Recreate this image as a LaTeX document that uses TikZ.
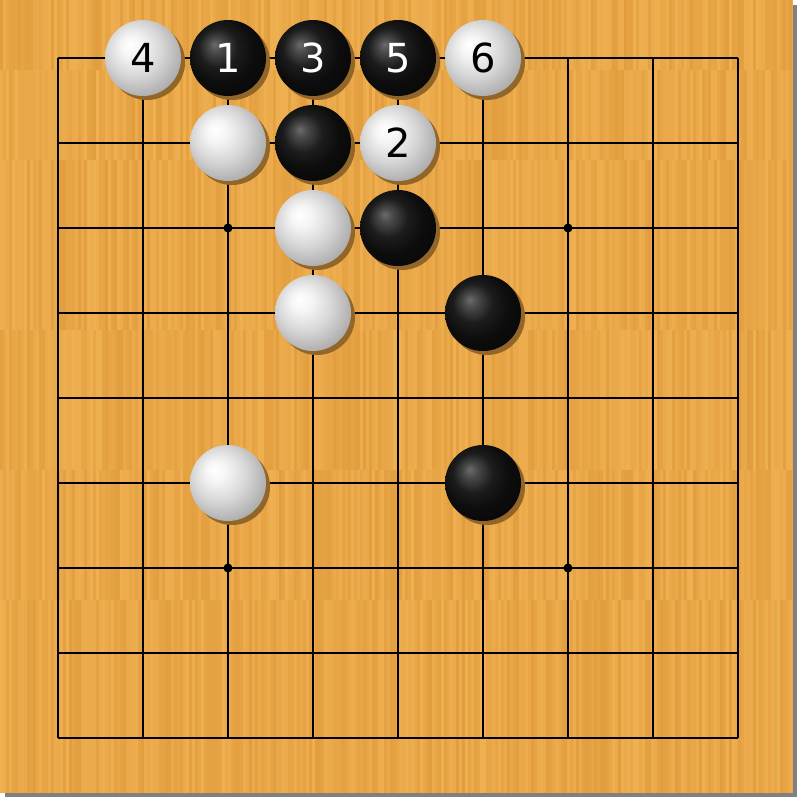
\documentclass[tikz,border=0pt]{standalone}
\usepackage{fontspec}
\setmainfont{DejaVu Sans}
\usetikzlibrary{shadows}
\definecolor{woodL}{RGB}{239,176,82}
\definecolor{woodD}{RGB}{226,158,62}
\definecolor{woodB}{RGB}{232,167,72}
\definecolor{shadowc}{RGB}{145,102,40}
\definecolor{edgegray}{RGB}{128,128,128}
\pgfdeclareradialshading{wstone}{\pgfpoint{-9bp}{9bp}}{%
  color(0bp)=(white);
  color(7bp)=(white!96!black);
  color(18bp)=(white!84!black);
  color(28bp)=(white!70!black);
  color(36bp)=(white!60!black);
  color(50bp)=(white!52!black)}
\pgfdeclareradialshading{bstone}{\pgfpoint{-9bp}{9bp}}{%
  color(0bp)=(white!42!black);
  color(5bp)=(white!28!black);
  color(13bp)=(white!11!black);
  color(22bp)=(white!5!black);
  color(50bp)=(black)}
\tikzset{
  stonebase/.style={circle, minimum size=76pt, inner sep=0pt, text depth=0pt,
    font=\fontsize{40}{40}\selectfont,
    drop shadow={shadow xshift=4pt, shadow yshift=-4pt, fill=shadowc, opacity=1}},
  wst/.style={stonebase, shading=wstone, text=black},
  bst/.style={stonebase, shading=bstone, text=white},
  gridline/.style={draw=black, line width=1.1pt},
  hoshi/.style={fill=black}
}
\begin{document}
\begin{tikzpicture}[x=1pt,y=-1pt]
\useasboundingbox (0,0) rectangle (800,800);
\fill[white] (0,0) rectangle (800,800);
\fill[edgegray] (5,5) rectangle (797,797);
\fill[woodB] (0,0) rectangle (793,793);
% wood texture
\pgfmathsetseed{4242}
\foreach \b/\ya/\yb in {0/0/70,1/70/160,2/160/330,3/330/470,4/470/600,5/600/793}{
  \foreach \i in {0,...,263}{
    \pgfmathtruncatemacro\p{random(0,100)}
    \fill[woodL!\p!woodD] ({\i*3},\ya) rectangle ({\i*3+3.05},\yb);
  }
}
% grid
\foreach \k in {0,...,8}{
  \draw[gridline] ({58+85*\k},58) -- ({58+85*\k},738);
  \draw[gridline] (58,{58+85*\k}) -- (738,{58+85*\k});
}
% star points
\foreach \hx/\hy in {228/228,568/228,228/568,568/568}{
  \fill[hoshi] (\hx,\hy) circle (4.5);
}
% stones
\node[wst] (w4) at (143,58) {4};
\node[bst] (b1) at (228,58) {1};
\node[bst] (b3) at (313,58) {3};
\node[bst] (b5) at (398,58) {5};
\node[wst] (w6) at (483,58) {6};
\node[wst] (wa) at (228,143) {};
\node[bst] (ba) at (313,143) {};
\node[wst] (w2) at (398,143) {2};
\node[wst] (wb) at (313,228) {};
\node[bst] (bb) at (398,228) {};
\node[wst] (wc) at (313,313) {};
\node[bst] (bc) at (483,313) {};
\node[wst] (wd) at (228,483) {};
\node[bst] (bd) at (483,483) {};
\end{tikzpicture}
\end{document}
